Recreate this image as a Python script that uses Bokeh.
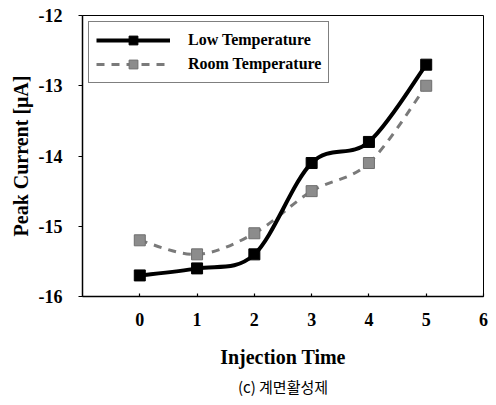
import numpy as np
from bokeh.plotting import figure
from bokeh.models import Range1d, FixedTicker, Legend, LegendItem, LinearAxis, CustomJSTickFormatter
from bokeh.embed import file_html
from bokeh.resources import INLINE

x_vals = [0, 1, 2, 3, 4, 5]
low_temp = [-15.7, -15.6, -15.4, -14.1, -13.8, -12.7]
room_temp = [-15.2, -15.4, -15.1, -14.5, -14.1, -13.0]
x_ticks = [0, 1, 2, 3, 4, 5, 6]
y_ticks = [-16, -15, -14, -13, -12]

SERIF = "Liberation Serif"


def smooth_segments(xs, ys):
    xs = np.asarray(xs, float)
    ys = np.asarray(ys, float)
    n = len(xs)
    out = {k: [] for k in ("x0", "y0", "x1", "y1", "cx0", "cy0", "cx1", "cy1")}
    for i in range(n - 1):
        im1 = max(i - 1, 0)
        ip2 = min(i + 2, n - 1)
        out["x0"].append(xs[i]); out["y0"].append(ys[i])
        out["x1"].append(xs[i + 1]); out["y1"].append(ys[i + 1])
        out["cx0"].append(xs[i] + (xs[i + 1] - xs[im1]) / 6)
        out["cy0"].append(ys[i] + (ys[i + 1] - ys[im1]) / 6)
        out["cx1"].append(xs[i + 1] - (xs[ip2] - xs[i]) / 6)
        out["cy1"].append(ys[i + 1] - (ys[ip2] - ys[i]) / 6)
    return out


p = figure(width=496, height=405, output_backend="svg", toolbar_location=None,
           x_range=Range1d(-1, 6), y_range=Range1d(-16, -12),
           min_border_left=82, min_border_right=13, min_border_top=15, min_border_bottom=109)

p.xgrid.visible = False
p.ygrid.visible = False
p.outline_line_color = "black"
p.outline_line_width = 1
p.background_fill_color = "white"
p.border_fill_color = "white"

fmt = CustomJSTickFormatter(code="return tick.toString();")
p.xaxis.formatter = fmt
p.yaxis.formatter = fmt
p.axis.axis_line_color = "black"
p.axis.axis_line_width = 1.5
p.axis.major_tick_line_width = 1.2
p.axis.minor_tick_line_color = None
p.axis.major_label_text_font = SERIF
p.axis.major_label_text_font_style = "bold"
p.axis.major_label_text_font_size = "18px"
p.axis.major_label_text_color = "black"
p.axis.axis_label_text_font = SERIF
p.axis.axis_label_text_font_style = "bold"
p.axis.axis_label_text_font_size = "20px"
p.axis.axis_label_text_color = "black"

p.xaxis.major_tick_in = 3
p.xaxis.major_tick_out = 0
p.yaxis.major_tick_in = 0
p.yaxis.major_tick_out = 4
p.xaxis.ticker = FixedTicker(ticks=x_ticks)
p.yaxis.ticker = FixedTicker(ticks=y_ticks)
p.xaxis.major_label_standoff = 16
p.yaxis.major_label_standoff = 16
p.xaxis.axis_label = "Injection Time"
p.yaxis.axis_label = "Peak Current [μA]"
p.xaxis.axis_label_standoff = 17
p.yaxis.axis_label_standoff = 4

s_low = smooth_segments(x_vals, low_temp)
s_room = smooth_segments(x_vals, room_temp)

r_room_line = p.bezier(x0=s_room["x0"], y0=s_room["y0"], x1=s_room["x1"], y1=s_room["y1"],
                       cx0=s_room["cx0"], cy0=s_room["cy0"], cx1=s_room["cx1"], cy1=s_room["cy1"],
                       line_color="#7a7a7a", line_width=3, line_dash="8 7")
r_room_pts = p.scatter(x_vals, room_temp, marker="square", size=11,
                       fill_color="#8c8c8c", line_color="#6e6e6e")
r_low_line = p.bezier(x0=s_low["x0"], y0=s_low["y0"], x1=s_low["x1"], y1=s_low["y1"],
                      cx0=s_low["cx0"], cy0=s_low["cy0"], cx1=s_low["cx1"], cy1=s_low["cy1"],
                      line_color="black", line_width=4)
r_low_pts = p.scatter(x_vals, low_temp, marker="square", size=11,
                      fill_color="black", line_color="black")

legend = Legend(items=[
    LegendItem(label="Low Temperature", renderers=[r_low_line, r_low_pts]),
    LegendItem(label="Room Temperature", renderers=[r_room_line, r_room_pts]),
], location="top_left")
legend.label_text_font = SERIF
legend.label_text_font_style = "bold"
legend.label_text_font_size = "16px"
legend.label_text_color = "black"
legend.border_line_color = "black"
legend.border_line_width = 1
legend.glyph_width = 74
legend.glyph_height = 22
legend.label_standoff = 18
legend.spacing = 2
legend.padding = 7
legend.margin = 6
legend.label_height = 22
p.add_layout(legend)

cap_axis = LinearAxis(ticker=FixedTicker(ticks=[]), axis_line_color=None,
                      major_tick_line_color=None, minor_tick_line_color=None,
                      major_label_text_font_size="0px",
                      axis_label="(c) 계면활성제", axis_label_standoff=5,
                      axis_label_text_font="Noto Sans CJK KR",
                      axis_label_text_font_size="15px",
                      axis_label_text_font_style="normal",
                      axis_label_text_color="black")
p.add_layout(cap_axis, "below")

open("out.html", "w").write(file_html(p, INLINE))
